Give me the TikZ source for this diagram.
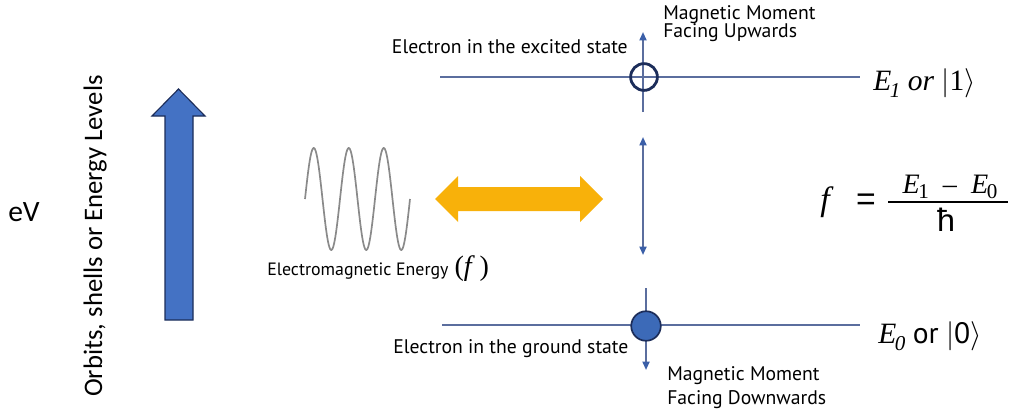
\documentclass[tikz,border=0pt]{standalone}
\usepackage{fontspec}
\setmainfont{Liberation Serif}
\setsansfont{PT Sans}
\newfontfamily\calfont{Carlito}
\newfontfamily\hfont{Liberation Sans}
\usetikzlibrary{arrows.meta,positioning,calc}

\definecolor{lvlblue}{HTML}{5B6E9E}
\definecolor{tipblue}{HTML}{3B5FA8}
\definecolor{navy}{HTML}{1C2D5A}
\definecolor{dotblue}{HTML}{3C6AB8}
\definecolor{bigblue}{HTML}{4472C4}
\definecolor{amber}{HTML}{F8B10A}
\definecolor{wavegray}{HTML}{8A8A8A}

\begin{document}
\begin{tikzpicture}[x=0.025cm, y=-0.025cm,
    level/.style={draw=lvlblue, line width=1.4pt},
    spin/.style={draw=lvlblue, line width=1.3pt, -{Triangle[length=6pt, width=5pt, color=tipblue]}},
    lbl/.style={font=\sffamily\fontsize{14}{14}\selectfont, inner sep=0pt},
    moment/.style={font=\sffamily\fontsize{14}{14}\selectfont, inner sep=0pt, align=left, anchor=north west},
    state/.style={font=\rmfamily\fontsize{21}{24}\selectfont, inner sep=0pt, anchor=base west},
    fracbar/.style={line width=1.6pt}
]
\useasboundingbox (0,0) rectangle (1016,409);
\fill[white] (0,0) rectangle (1016,409);

% left side: axis label and big arrow
\node[font=\calfont\fontsize{21}{21}\selectfont, anchor=base west, inner sep=0pt] (ev) at (8,221) {eV};
\node[font=\calfont\fontsize{19}{19}\selectfont, rotate=90, anchor=base, inner sep=0pt] (axis) at (102,236) {Orbits, shells or Energy Levels};
\fill[bigblue, draw=navy, line width=0.8pt] (165,320) -- (165,116) -- (152,116) -- (178.5,89)
    -- (205,116) -- (193,116) -- (193,320) -- cycle;

% wave and photon arrow
\draw[wavegray, line width=1.2pt] plot[domain=0:105, samples=160] ({305+\x},{199-51*sin(\x/35*360)});
\node[anchor=base west, inner sep=0pt, font=\sffamily\fontsize{12.7}{12.7}\selectfont] (emlbl) at (267,275)
    {Electromagnetic Energy\,\,{\rmfamily\fontsize{20}{20}\selectfont(\textit{f}\,)}};
\fill[amber] (435,199) -- (458,176) -- (458,187) -- (580,187) -- (580,176) -- (603,199)
    -- (580,222) -- (580,211) -- (458,211) -- (458,222) -- cycle;

% energy levels
\coordinate (up-w) at (440,77);
\coordinate (up-e) at (860,77);
\coordinate (dn-w) at (442,325);
\coordinate (dn-e) at (860,325);
\draw[level] (up-w) -- (up-e);
\draw[level] (dn-w) -- (dn-e);

% spins
\coordinate (up-tail) at (643,112);
\coordinate (up-tip) at (643,32);
\coordinate (gap-top) at (643,137);
\coordinate (gap-bot) at (643,255);
\coordinate (dn-tail) at (646,288);
\coordinate (dn-tip) at (646,370);
\draw[spin] (up-tail) -- (up-tip);
\draw[spin, {Triangle[length=6pt, width=5pt, color=tipblue]}-{Triangle[length=6pt, width=5pt, color=tipblue]}] (gap-top) -- (gap-bot);
\draw[spin] (dn-tail) -- (dn-tip);
\node[circle, draw=navy, line width=2pt, minimum size=19pt, inner sep=0pt] (excited) at (644,77) {};
\node[circle, draw=navy, fill=dotblue, line width=1.2pt, minimum size=21pt, inner sep=0pt] (ground) at (646,326) {};

% labels
\node[lbl, anchor=base east] (exclbl) at (628,53) {Electron in the excited state};
\node[moment] (upmom) at (663,5) {Magnetic Moment\\[-1pt]Facing Upwards};
\node[lbl, anchor=base west] (gndlbl) at (393,353) {Electron in the ground state};
\node[moment] (dnmom) at (667,366) {Magnetic Moment\\[3pt]Facing Downwards};

\node[state] (e1) at (873,90) {\textit{E\kern-1pt\raisebox{-5pt}{\fontsize{15}{15}\selectfont 1}} \textit{or} $\bigl|\mbox{1}\bigr\rangle$};
\node[state] (e0) at (878,343) {\textit{E\kern-1pt\raisebox{-5pt}{\fontsize{15}{15}\selectfont 0}} {\sffamily or} $\bigl|\mbox{\sffamily 0}\bigr\rangle$};

% frequency formula
\node[anchor=base west, inner sep=0pt, font=\rmfamily\fontsize{24}{24}\selectfont] (fsym) at (820,210) {\textit{f}};
\node[inner sep=0pt, font=\hfont\fontsize{24}{24}\selectfont] (eqsign) at (866,202) {=};
\node[anchor=base, inner sep=0pt, font=\rmfamily\fontsize{20}{20}\selectfont] (numer) at (950,193)
    {\textit{E}\kern-1pt\raisebox{-4pt}{\fontsize{15}{15}\selectfont 1}\ \ --\ \ \textit{E}\kern-1pt\raisebox{-4pt}{\fontsize{15}{15}\selectfont 0}};
\coordinate (bar-w) at (888,202);
\coordinate (bar-e) at (1008,202);
\draw[fracbar] (bar-w) -- (bar-e);
\node[anchor=base, inner sep=0pt, font=\hfont\fontsize{23}{23}\selectfont] (hbar) at (946,231) {ħ};
\end{tikzpicture}
\end{document}
